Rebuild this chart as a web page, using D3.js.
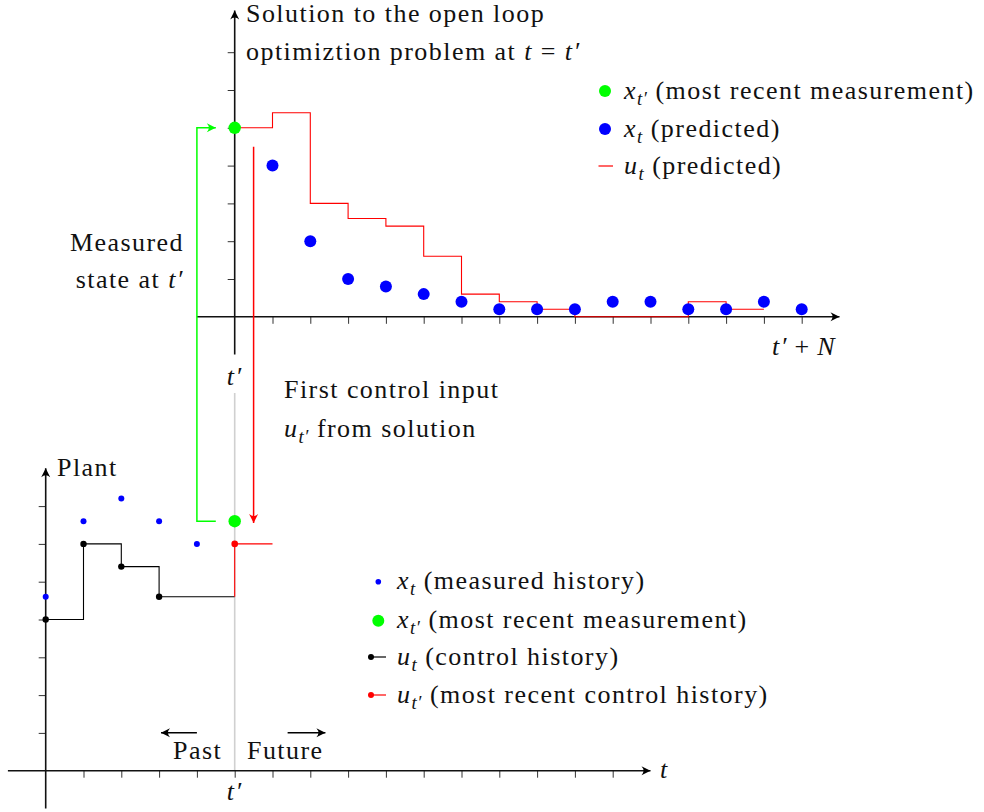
<!DOCTYPE html>
<html><head><meta charset="utf-8">
<script src="https://cdn.jsdelivr.net/npm/d3@7"></script>
<style>
body{margin:0;background:#fff}
</style>
</head><body>
<svg id="c" width="984" height="812"></svg>
<script>
// ---------------- data ----------------
// Predicted trajectory (top panel), time in steps after t'
const predT = [1,2,3,4,5,6,7,8,9,10,11,12,13,14,15];
const predX = [4,2,1,0.8,0.6,0.4,0.2,0.2,0.2,0.4,0.4,0.2,0.2,0.4,0.2];
// Predicted control, piecewise constant on [k, k+1), k = 0..13
const predUT = [0,1,2,3,4,5,6,7,8,9,10,11,12,13];
const predU  = [5,5.4,3,2.6,2.4,1.6,0.6,0.4,0.2,0,0,0,0.4,0.2];
const xNowTop = 5;          // x_{t'} in the top panel (at t = t')
// Plant history (bottom panel)
const measT = [0,1,2,3,4];
const measX = [4.6,6.6,7.2,6.6,6.0];
const tNow = 5;             // t'
const xNowPlant = 6.6;      // x_{t'} in bottom panel
const ctrlT = [0,1,2,3];
const ctrlU = [4,6,5.4,4.6];
const uNow = 6;             // u_{t'}
const xTicks = d3.range(1,16);
const yTicks = d3.range(1,8);

const FS = 26, LS = 1.45, FONT = '"Liberation Serif", "Times New Roman", serif';
const svg = d3.select('#c');

// ---------------- scales ----------------
const unit = 37.8;
const ox = 45.7, oy = 770.7;      // plant origin
const xB = d3.scaleLinear().domain([-1,16]).range([ox-unit, ox+16*unit]);
const yB = d3.scaleLinear().domain([-1,8]).range([oy+unit, oy-8*unit]);
const tx = xB(tNow), ty = 316.8;  // top panel origin
const xT = d3.scaleLinear().domain([-1,16]).range([tx-unit, tx+16*unit]);
const yT = d3.scaleLinear().domain([-1,8.1]).range([ty+unit, ty-8.1*unit]);

// ---------------- markers ----------------
const defs = svg.append('defs');
function marker(id, color){
  defs.append('marker').attr('id',id).attr('viewBox','-10 -6 12 12')
    .attr('refX',0).attr('refY',0).attr('markerWidth',12).attr('markerHeight',12)
    .attr('markerUnits','userSpaceOnUse').attr('orient','auto')
    .append('path').attr('d','M0,0 L-9,-4.5 Q-5,0 -9,4.5 Z').attr('fill',color);
}
marker('ak','#000'); marker('ag','#00ff00'); marker('ar','#ff0000');

// ---------------- gray t' line ----------------
svg.append('line').attr('x1',tx).attr('x2',tx).attr('y1',393).attr('y2',yB(0))
  .attr('stroke','#d0d0d0').attr('stroke-width',1.6);

// ---------------- axes ----------------
function axesFor(xs, ys, xMin, xMax, yMin, yMax){
  const g = svg.append('g');
  g.append('g').attr('transform',`translate(0,${ys(0)})`)
    .call(d3.axisBottom(xs).tickValues(xTicks).tickSize(7).tickFormat(''))
    .call(a=>a.select('.domain').remove())
    .call(a=>a.selectAll('line').attr('stroke','#333').attr('stroke-width',1));
  g.append('g').attr('transform',`translate(${xs(0)},0)`)
    .call(d3.axisLeft(ys).tickValues(yTicks).tickSize(7).tickFormat(''))
    .call(a=>a.select('.domain').remove())
    .call(a=>a.selectAll('line').attr('stroke','#333').attr('stroke-width',1));
  g.append('line').attr('x1',xs(xMin)).attr('x2',xs(xMax)).attr('y1',ys(0)).attr('y2',ys(0))
    .attr('stroke','#111').attr('stroke-width',1.6).attr('marker-end','url(#ak)');
  g.append('line').attr('x1',xs(0)).attr('x2',xs(0)).attr('y1',ys(yMin)).attr('y2',ys(yMax))
    .attr('stroke','#111').attr('stroke-width',1.6).attr('marker-end','url(#ak)');
}
axesFor(xB, yB, -1, 16, -1, 8);
axesFor(xT, yT, -1, 16, -1, 8.1);

// ---------------- top panel ----------------
const stepLine = (xs, ys) => d3.line().x(d=>xs(d[0])).y(d=>ys(d[1])).curve(d3.curveStepAfter);
const uPts = predUT.map((t,i)=>[t,predU[i]]);
uPts.push([predUT[predUT.length-1]+1, predU[predU.length-1]]);
svg.append('path').datum(uPts).attr('d',stepLine(xT,yT))
  .attr('fill','none').attr('stroke','#ff0000').attr('stroke-width',1.1);
svg.append('g').selectAll('circle').data(predT).join('circle')
  .attr('cx',d=>xT(d)).attr('cy',(d,i)=>yT(predX[i])).attr('r',6).attr('fill','#0000ff');
svg.append('circle').attr('cx',xT(0)).attr('cy',yT(xNowTop)).attr('r',6.2).attr('fill','#00ff00');

// ---------------- bottom panel ----------------
const hist = ctrlT.map((t,i)=>[t,ctrlU[i]]);
hist.push([tNow, ctrlU[ctrlU.length-1]]);
svg.append('path').datum(hist).attr('d',stepLine(xB,yB))
  .attr('fill','none').attr('stroke','#000').attr('stroke-width',1.1);
svg.append('path').datum([[tNow,ctrlU[ctrlU.length-1]],[tNow,uNow],[tNow+1,uNow]])
  .attr('d',stepLine(xB,yB)).attr('fill','none').attr('stroke','#ff0000').attr('stroke-width',1.1);
svg.append('g').selectAll('circle').data(ctrlT).join('circle')
  .attr('cx',d=>xB(d)).attr('cy',(d,i)=>yB(ctrlU[i])).attr('r',3.2).attr('fill','#000');
svg.append('circle').attr('cx',xB(tNow)).attr('cy',yB(uNow)).attr('r',3.3).attr('fill','#ff0000');
svg.append('g').selectAll('circle.m').data(measT).join('circle')
  .attr('cx',d=>xB(d)).attr('cy',(d,i)=>yB(measX[i])).attr('r',3).attr('fill','#0000ff');
svg.append('circle').attr('cx',xB(tNow)).attr('cy',yB(xNowPlant)).attr('r',6.2).attr('fill','#00ff00');

// ---------------- connecting arrows ----------------
svg.append('path').attr('d',d3.line()([
    [xB(tNow-0.5), yB(xNowPlant)], [xT(-1), yB(xNowPlant)], [xT(-1), yT(xNowTop)], [xT(-0.5), yT(xNowTop)]]))
  .attr('fill','none').attr('stroke','#00ff00').attr('stroke-width',1.5).attr('marker-end','url(#ag)');
svg.append('path').attr('d',d3.line()([[xT(0.5), yT(4.5)], [xT(0.5), yB(xNowPlant-0.05)]]))
  .attr('fill','none').attr('stroke','#ff0000').attr('stroke-width',1.5).attr('marker-end','url(#ar)');
// Past / Future arrows
svg.append('line').attr('x1',xB(4)).attr('x2',xB(3.05)).attr('y1',732.7).attr('y2',732.7)
  .attr('stroke','#000').attr('stroke-width',1.5).attr('marker-end','url(#ak)');
svg.append('line').attr('x1',xB(6.4)).attr('x2',xB(7.4)).attr('y1',732.7).attr('y2',732.7)
  .attr('stroke','#000').attr('stroke-width',1.5).attr('marker-end','url(#ak)');

// ---------------- text ----------------
function rich(x, y, parts, anchor){
  const t = svg.append('text').attr('x',x).attr('y',y).attr('text-anchor',anchor||'start')
    .attr('font-size',FS).attr('letter-spacing',LS).attr('fill','#111')
    .style('font-family',FONT).style('white-space','pre');
  let shift = 0;
  parts.forEach(p=>{
    const s = p[0], k = p[1]||'r';
    const ts = t.append('tspan').text(s);
    if (k==='i') ts.style('font-style','italic');
    if (k==='s'){ ts.style('font-style','italic').attr('font-size',FS*0.72).attr('dy',6-shift).attr('letter-spacing',0.6); shift = 6; }
    else if (shift){ ts.attr('dy',-shift); shift = 0; }
  });
  return t;
}
rich(246, 22, [['Solution to the open loop']]);
rich(246, 60, [['optimiztion problem at '],['t','i'],[' = '],['t′','i']]);
rich(184, 251, [['Measured']], 'end');
rich(184, 288, [['state at '],['t′','i']], 'end');
rich(284, 398, [['First control input']]);
rich(284, 437, [['u','i'],['t′','s'],[' from solution']]);
rich(tx, 385, [['t′','i']], 'middle');
rich(836, 355, [['t′','i'],['\u2009+\u2009'],['N','i']], 'end').attr('word-spacing',2);
rich(57, 476, [['Plant']]);
rich(173, 759, [['Past']]);
rich(247, 759, [['Future']]);
rich(660, 778, [['t','i']]);
rich(tx, 800, [['t′','i']], 'middle');

// top legend
const topLegend = [
  {kind:'bigdot', color:'#00ff00', parts:[['x','i'],['t′','s'],[' (most recent measurement)']]},
  {kind:'bigdot', color:'#0000ff', parts:[['x','i'],['t','s'],[' (predicted)']]},
  {kind:'line', color:'#ff0000', parts:[['u','i'],['t','s'],[' (predicted)']]}
];
const topLegY = [91, 129, 166];
topLegend.forEach((d,i)=>{
  const y = topLegY[i];
  if (d.kind==='bigdot') svg.append('circle').attr('cx',605).attr('cy',y).attr('r',6).attr('fill',d.color);
  else svg.append('line').attr('x1',598.5).attr('x2',613).attr('y1',y).attr('y2',y).attr('stroke',d.color).attr('stroke-width',1.2);
  rich(624, y+8, d.parts);
});
// bottom legend
const botLegend = [
  {kind:'smalldot', color:'#0000ff', parts:[['x','i'],['t','s'],[' (measured history)']]},
  {kind:'bigdot', color:'#00ff00', parts:[['x','i'],['t′','s'],[' (most recent measurement)']]},
  {kind:'dotline', color:'#000', parts:[['u','i'],['t','s'],[' (control history)']]},
  {kind:'dotline', color:'#ff0000', parts:[['u','i'],['t′','s'],[' (most recent control history)']]}
];
const botLegY = [581.7, 620.7, 657, 695];
botLegend.forEach((d,i)=>{
  const y = botLegY[i];
  if (d.kind==='smalldot') svg.append('circle').attr('cx',378.3).attr('cy',y).attr('r',2.8).attr('fill',d.color);
  else if (d.kind==='bigdot') svg.append('circle').attr('cx',378.3).attr('cy',y).attr('r',6).attr('fill',d.color);
  else {
    svg.append('line').attr('x1',371).attr('x2',386).attr('y1',y).attr('y2',y).attr('stroke',d.color).attr('stroke-width',1.2);
    svg.append('circle').attr('cx',371).attr('cy',y).attr('r',3).attr('fill',d.color);
  }
  rich(397, y+7.5, d.parts);
});
</script>
</body></html>
